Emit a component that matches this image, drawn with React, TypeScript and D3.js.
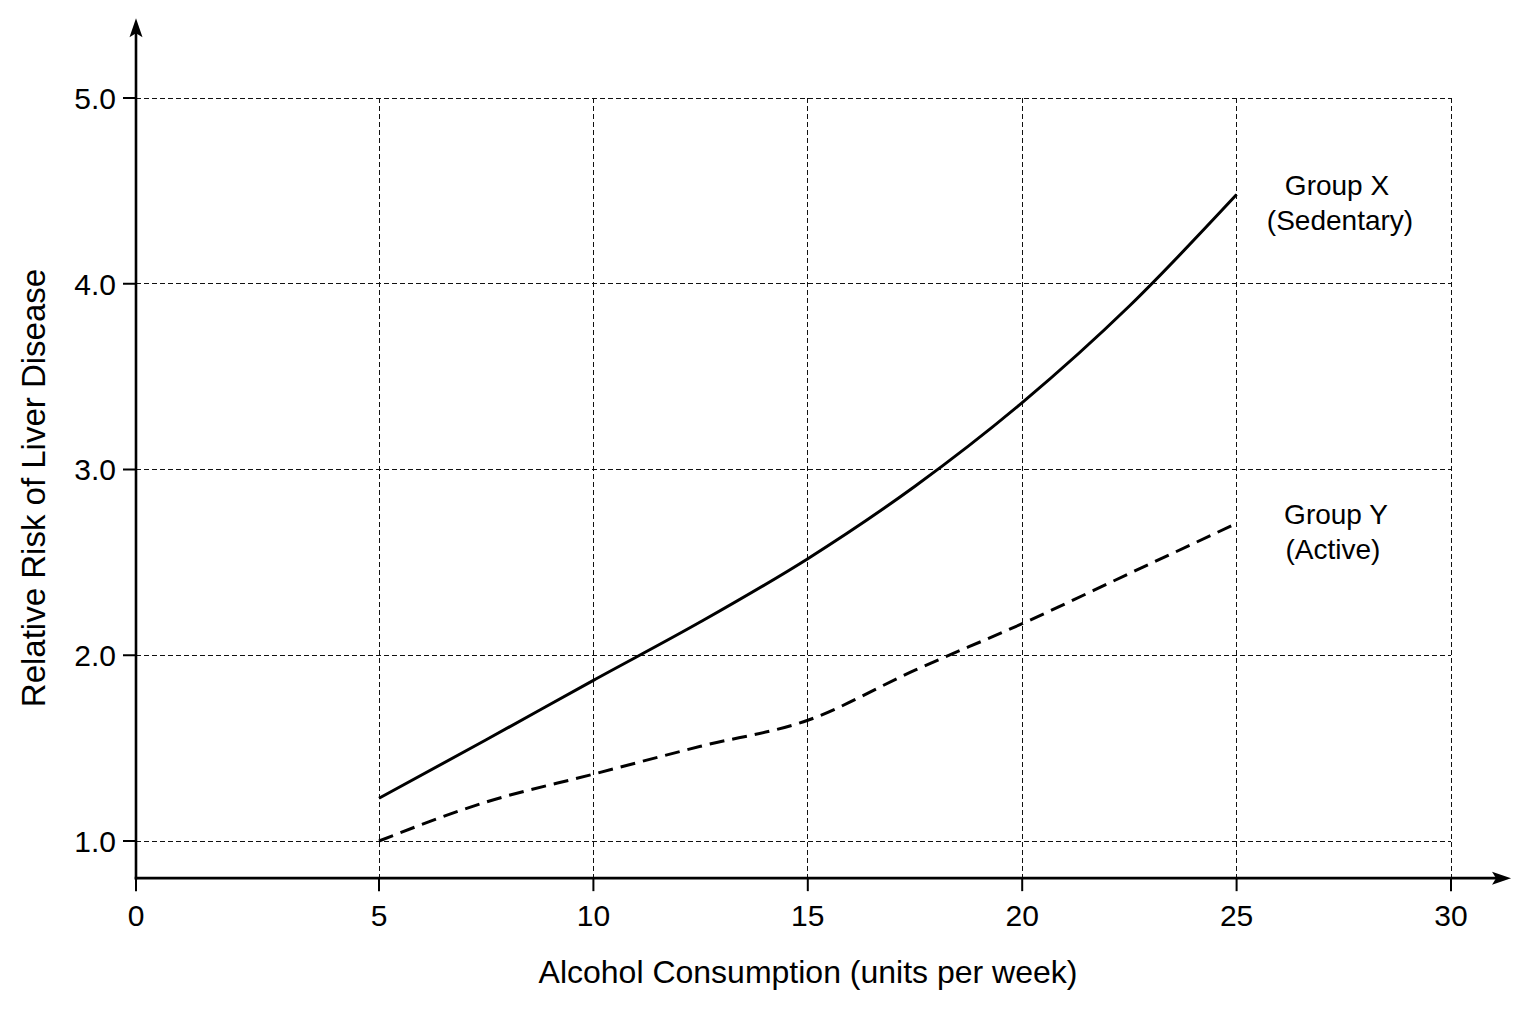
import React from "react";
import * as d3 from "d3";

const xTicks = [0, 5, 10, 15, 20, 25, 30];
const yTicks = [1.0, 2.0, 3.0, 4.0, 5.0];
const xValues = [5, 7.5, 10, 12.5, 15, 17.5, 20, 22.5, 25];
const groupX = [1.23, 1.545, 1.865, 2.18, 2.52, 2.91, 3.36, 3.88, 4.48];
const groupY = [1.0, 1.21, 1.36, 1.51, 1.65, 1.92, 2.17, 2.44, 2.71];
const groupXLabel = ["Group X", "(Sedentary)"];
const groupYLabel = ["Group Y", "(Active)"];
const xTitle = "Alcohol Consumption (units per week)";
const yTitle = "Relative Risk of Liver Disease";

const W = 1536;
const H = 1024;
const FONT = "'Liberation Sans', Arial, Helvetica, sans-serif";

export default function App() {
  const x = d3.scaleLinear().domain([0, 5, 30]).range([136, 379, 1451]);
  const y = d3.scaleLinear().domain([1, 5]).range([841, 98]);
  const yBottom = y(0.8);
  const x0 = x(0);

  const line = d3
    .line<number>()
    .x((_, i) => x(xValues[i]))
    .y((d) => y(d))
    .curve(d3.curveMonotoneX);

  const gridDash = "5 3";
  const axisTop = y(5.43);
  const axisRight = x(31.4);

  return (
    <svg
      width={W}
      height={H}
      style={{ position: "absolute", left: 0, top: 0, background: "#fff" }}
      fontFamily={FONT}
    >
      <rect x={0} y={0} width={W} height={H} fill="#fff" />
      {/* grid */}
      <g
        stroke="#111"
        strokeWidth={1}
        strokeDasharray={gridDash}
        fill="none"
        shapeRendering="crispEdges"
      >
        {yTicks.map((t) => (
          <line key={"gy" + t} x1={x0} x2={x(30)} y1={y(t)} y2={y(t)} />
        ))}
        {xTicks
          .filter((t) => t > 0)
          .map((t) => (
            <line key={"gx" + t} x1={x(t)} x2={x(t)} y1={y(5)} y2={yBottom} />
          ))}
      </g>

      {/* data lines */}
      <path d={line(groupX) || ""} fill="none" stroke="#000" strokeWidth={3} />
      <path
        d={line(groupY) || ""}
        fill="none"
        stroke="#000"
        strokeWidth={3}
        strokeDasharray="15 8"
      />

      {/* axes */}
      <g stroke="#000" strokeWidth={2.6}>
        <line x1={x0} x2={x0} y1={yBottom + 1.3} y2={axisTop + 14} />
        <line x1={x0 - 1.3} x2={axisRight - 14} y1={yBottom} y2={yBottom} />
        {yTicks.map((t) => (
          <line key={"ty" + t} x1={x0 - 13} x2={x0} y1={y(t)} y2={y(t)} strokeWidth={2} />
        ))}
        {xTicks.map((t) => (
          <line key={"tx" + t} x1={x(t)} x2={x(t)} y1={yBottom} y2={yBottom + 13} strokeWidth={2} />
        ))}
      </g>
      <path
        d={`M${x0},${axisTop} L${x0 - 6.5},${axisTop + 19} L${x0},${axisTop + 15} L${x0 + 6.5},${axisTop + 19} Z`}
        fill="#000"
      />
      <path
        d={`M${axisRight},${yBottom} L${axisRight - 19},${yBottom - 6.5} L${axisRight - 15},${yBottom} L${axisRight - 19},${yBottom + 6.5} Z`}
        fill="#000"
      />

      {/* tick labels */}
      <g fontSize={30} fill="#000">
        {yTicks.map((t) => (
          <text key={"ly" + t} x={x0 - 20} y={y(t)} dy="0.36em" textAnchor="end">
            {d3.format(".1f")(t)}
          </text>
        ))}
        {xTicks.map((t) => (
          <text key={"lx" + t} x={x(t)} y={926} textAnchor="middle">
            {t}
          </text>
        ))}
      </g>

      {/* series labels */}
      <g fontSize={28} fill="#000" textAnchor="middle">
        <text x={1337} y={195}>{groupXLabel[0]}</text>
        <text x={1340} y={230}>{groupXLabel[1]}</text>
        <text x={1336} y={524}>{groupYLabel[0]}</text>
        <text x={1333} y={559}>{groupYLabel[1]}</text>
      </g>

      {/* axis titles */}
      <text x={808} y={983} fontSize={32} textAnchor="middle" fill="#000">
        {xTitle}
      </text>
      <text
        transform={`translate(45,488) rotate(-90)`}
        fontSize={33}
        textAnchor="middle"
        fill="#000"
      >
        {yTitle}
      </text>
    </svg>
  );
}
